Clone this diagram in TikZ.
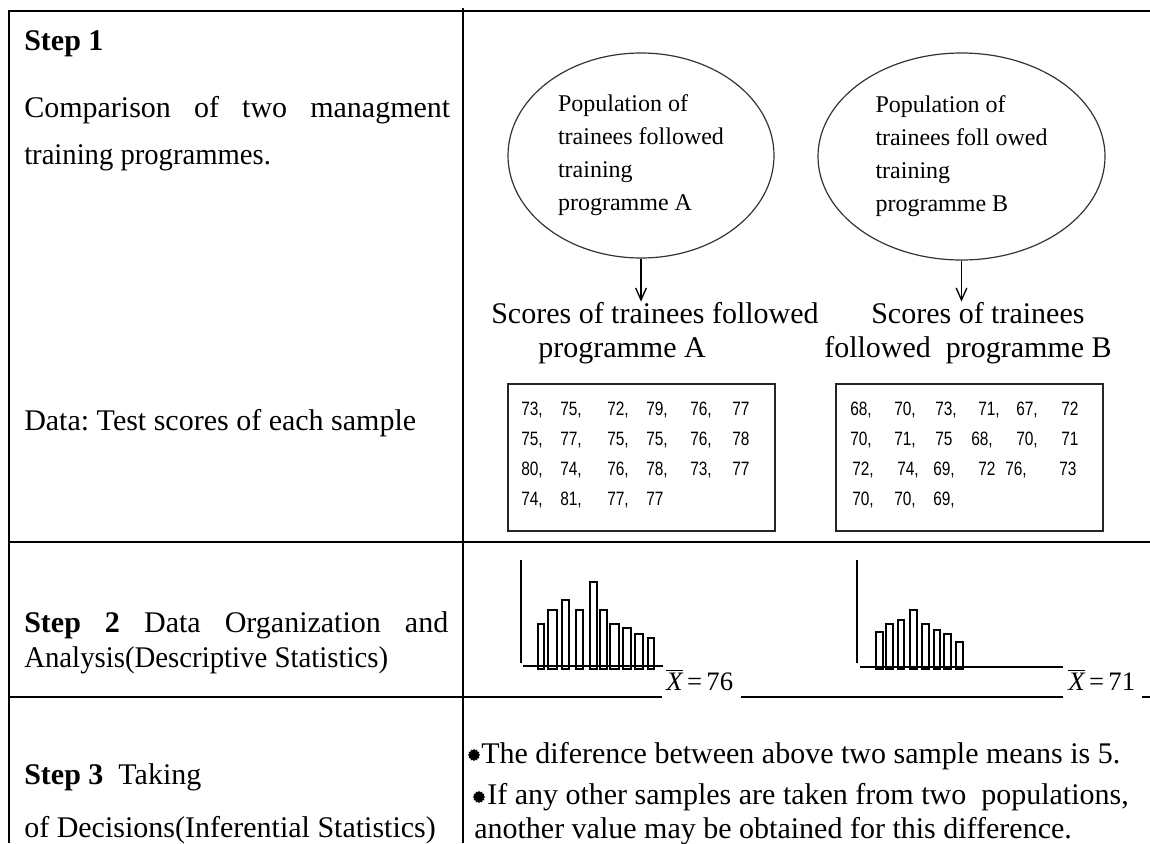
\documentclass[tikz,border=0pt]{standalone}
\usepackage{fontspec}
\setmainfont{Liberation Serif}
\newfontfamily\numfont{Liberation Sans}
\usetikzlibrary{arrows.meta,shapes.geometric}
\newcommand\nb[2]{\makebox[#1][l]{\scalebox{0.8}[1]{#2}}}
\frenchspacing
\begin{document}
\begin{tikzpicture}[x=0.75pt,y=-0.75pt,
  rule/.style={line width=1.5pt,black},
  txt/.style={anchor=base west,inner sep=0pt,font=\fontsize{22.5}{27}\selectfont},
  popell/.style={ellipse,draw=black!80,line width=0.9pt,align=left,inner sep=0pt,font=\fontsize{18}{24.75}\selectfont},
  databox/.style={draw=black!85,line width=1.2pt,minimum width=200.25pt,minimum height=110.25pt,inner sep=0pt},
  nums/.style={anchor=base west,inner sep=0pt,font=\numfont\fontsize{14.5}{16}\selectfont},
  arr/.style={-{Straight Barb[length=9pt,width=8pt]},line width=1pt},
  bar/.style={draw,line width=0.9pt},
  axis/.style={line width=1.2pt},
  meanlbl/.style={anchor=base west,inner sep=0pt,font=\fontsize{20}{24}\selectfont},
  bulletstar/.style={star,star points=12,star point ratio=1.35,fill=black,inner sep=0pt,minimum size=9.5pt}
]
\useasboundingbox (0,0) rectangle (1150,843);
\fill[white] (0,0) rectangle (1150,843);

% table rules
\draw[rule] (9,843) -- (9,11) -- (1150,11);
\draw[rule] (463,8) -- (463,843);
\draw[rule] (9,542) -- (1150,542);
\draw[rule] (9,697) -- (662,697);
\draw[rule] (741,697) -- (1063,697);
\draw[rule] (1142,697) -- (1150,697);

% left column
\node[txt] (s1) at (24,50) {\textbf{Step 1}};
\node[txt] (c1) at (24,117) {\makebox[319.5pt][s]{Comparison of two managment}};
\node[txt] (c2) at (24,164) {\scalebox{0.955}[1]{training programmes.}};
\node[txt] (d1) at (24,430) {Data: Test scores of each sample};
\node[txt] (s2a) at (24,632) {\makebox[318pt][s]{\textbf{Step 2} Data Organization and}};
\node[txt] (s2b) at (24,667) {\scalebox{0.96}[1]{Analysis(Descriptive Statistics)}};
\node[txt] (s3a) at (24,784) {\textbf{Step 3}\ \ Taking};
\node[txt] (s3b) at (24,837) {of Decisions(Inferential Statistics)};

% populations
\node[popell,minimum width=199.5pt,minimum height=153.75pt] (popA) at (641,155.5)
  {Population of\\trainees followed\\training\\programme A};
\node[popell,minimum width=215.25pt,minimum height=155.25pt] (popB) at (961.5,156.5)
  {Population of\\trainees foll owed\\training\\programme B};

\node[txt] (scA1) at (491,323) {Scores of trainees followed};
\node[txt] (scA2) at (538,357) {programme A};
\node[txt] (scB1) at (871,323) {Scores of trainees};
\node[txt] (scB2) at (824,357) {followed\ \ programme B};
\draw[arr] (popA.south) -- (popA.south |- scA1.north);
\draw[arr] (popB.south) -- (popB.south |- scB1.north);

% data boxes
\node[databox] (boxA) at (641.5,457.5) {};
\node[databox] (boxB) at (969.5,457.5) {};
\node[nums] (a1) at (521,415) {\nb{29.25pt}{73,}\nb{35.25pt}{75,}\nb{29.25pt}{72,}\nb{33pt}{79,}\nb{31.5pt}{76,}\nb{20pt}{77}};
\node[nums] (a2) at (521,445) {\nb{29.25pt}{75,}\nb{35.25pt}{77,}\nb{29.25pt}{75,}\nb{33pt}{75,}\nb{31.5pt}{76,}\nb{20pt}{78}};
\node[nums] (a3) at (521,475) {\nb{29.25pt}{80,}\nb{35.25pt}{74,}\nb{29.25pt}{76,}\nb{33pt}{78,}\nb{31.5pt}{73,}\nb{20pt}{77}};
\node[nums] (a4) at (521,505) {\nb{29.25pt}{74,}\nb{35.25pt}{81,}\nb{29.25pt}{77,}\nb{20pt}{77}};
\node[nums] (b1r) at (850,415) {\nb{33pt}{68,}\nb{30.75pt}{70,}\nb{32.25pt}{73,}\nb{28.5pt}{71,}\nb{33.75pt}{67,}\nb{20pt}{72}};
\node[nums] (b2r) at (850,445) {\nb{33pt}{70,}\nb{30.75pt}{71,}\nb{27pt}{75}\nb{33.75pt}{68,}\nb{33.75pt}{70,}\nb{20pt}{71}};
\node[nums] (b3r) at (852,475) {\nb{33.75pt}{72,}\nb{27pt}{74,}\nb{33.75pt}{69,}\nb{20.25pt}{72}\nb{40.5pt}{76,}\nb{20pt}{73}};
\node[nums] (b4r) at (852,505) {\nb{31.5pt}{70,}\nb{29.25pt}{70,}\nb{20pt}{69,}};

% histogram A
\draw[axis] (521,560) -- (521,663);
\draw[axis] (523,666) -- (663,666);
\foreach \l/\r/\t in {538/544/624,548/557/610,562/569/600,576/583/610,590/597/582,600/607/610,610/619/624,623/631/628,635/643/634,648/654/638}
  \draw[bar] (\l,669) rectangle (\r,\t);
% histogram B
\draw[axis] (857,560) -- (857,663);
\draw[axis] (860,667) -- (1063,667);
\foreach \l/\r/\t in {876/883/632,886/893/624,898/904/620,910/917/610,922/929/624,934/940/630,944/951/634,956/963/642}
  \draw[bar] (\l,669) rectangle (\r,\t);
\node[meanlbl] (mA) at (666,690) {$\overline{\hbox{\itshape X}}$\,=\,76};
\node[meanlbl] (mB) at (1068,690) {$\overline{\hbox{\itshape X}}$\,=\,71};

% step 3 right
\node[bulletstar] (bu1) at (474,755) {};
\node[bulletstar] (bu2) at (479,797) {};
\node[txt] (t1) at (481,763) {The diference between above two sample means is 5.};
\node[txt] (t2) at (487,804) {If any other samples are taken from two\ \ populations,};
\node[txt] (t3) at (474,838) {another value may be obtained for this difference.};
\end{tikzpicture}
\end{document}
